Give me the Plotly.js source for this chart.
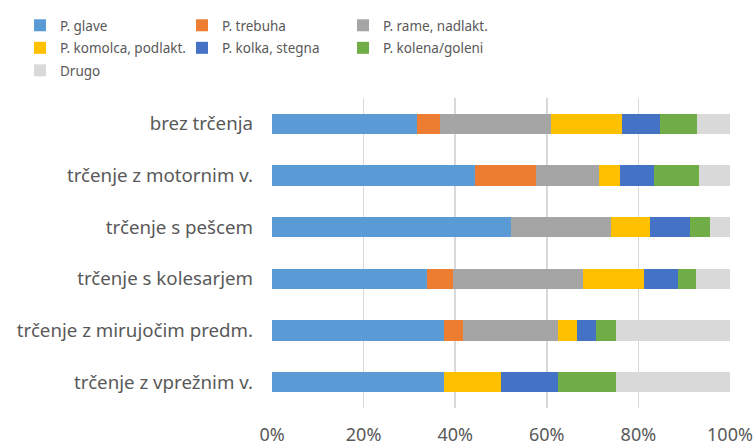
<!DOCTYPE html>
<html>
<head>
<meta charset="utf-8">
<script src="https://cdn.plot.ly/plotly-3.0.1.min.js"></script>
<style>html,body{margin:0;padding:0;background:#fff;}#chart{width:755px;height:445px;}</style>
</head>
<body>
<div id="chart"></div>
<script>
const categories = ['brez trčenja','trčenje z motornim v.','trčenje s pešcem','trčenje s kolesarjem','trčenje z mirujočim predm.','trčenje z vprežnim v.'];
const seriesNames = ['P. glave','P. trebuha','P. rame, nadlakt.','P. komolca, podlakt.','P. kolka, stegna','P. kolena/goleni','Drugo'];
const glave   = [31.7, 44.4, 52.1, 33.8, 37.5, 37.5];
const trebuha = [5.0, 13.3, 0, 5.7, 4.2, 0];
const rame    = [24.3, 13.8, 21.9, 28.3, 20.8, 0];
const komolca = [15.4, 4.4, 8.6, 13.3, 4.2, 12.5];
const kolka   = [8.4, 7.4, 8.7, 7.5, 4.2, 12.5];
const kolena  = [8.1, 10.0, 4.4, 3.9, 4.2, 12.5];
const drugo   = [7.1, 6.7, 4.3, 7.4, 25.0, 25.0];
const xTicks = [0, 20, 40, 60, 80, 100];
const xTickLabels = ['0%','20%','40%','60%','80%','100%'];

const colors = ['#5B9BD5','#ED7D31','#A5A5A5','#FFC000','#4472C4','#70AD47','#D9D9D9'];
const legendOf = ['legend','legend2','legend3','legend','legend2','legend3','legend'];
const values = [glave, trebuha, rame, komolca, kolka, kolena, drugo];

const FONT = 'Noto Sans, sans-serif';
const data = values.map((v, i) => ({
  type: 'bar', orientation: 'h', name: seriesNames[i],
  x: v, y: categories,
  marker: {color: colors[i], line: {width: 0}},
  legend: legendOf[i], legendgroup: 'g' + i,
  hoverinfo: 'skip'
}));

const L = 272, W = 458, T = 98, H = 310;
const px2x = X => (X - L) / W;
const py2y = Y => (T + H - Y) / H;
const legBase = {orientation: 'v', xanchor: 'left', yanchor: 'top', bgcolor: 'rgba(0,0,0,0)',
  font: {family: FONT, size: 13.5, color: '#595959'}, traceorder: 'grouped', tracegroupgap: 2,
  itemclick: false, itemdoubleclick: false};

const layout = {
  width: 755, height: 445,
  margin: {l: L, r: 755 - L - W, t: T, b: 445 - T - H, autoexpand: false},
  paper_bgcolor: '#fff', plot_bgcolor: '#fff',
  barmode: 'stack', barnorm: 'percent', bargap: 0.61,
  font: {family: FONT, size: 18, color: '#595959'},
  xaxis: {range: [0, 100], tickvals: xTicks, ticktext: xTickLabels, showgrid: true,
    gridcolor: '#D9D9D9', gridwidth: 1.5, zeroline: false, showline: false,
    ticks: '', ticklabelstandoff: 14, tickfont: {family: FONT, size: 18, color: '#595959'}, fixedrange: true},
  yaxis: {type: 'category', autorange: 'reversed', showgrid: false, zeroline: false, showline: false,
    ticks: '', ticklabelstandoff: 18, tickfont: {family: FONT, size: 18.7, color: '#595959'}, fixedrange: true},
  showlegend: true,
  legend:  Object.assign({}, legBase, {x: px2x(20),  y: py2y(10)}),
  legend2: Object.assign({}, legBase, {x: px2x(182), y: py2y(10)}),
  legend3: Object.assign({}, legBase, {x: px2x(343), y: py2y(10)})
};

Plotly.newPlot('chart', data, layout, {staticPlot: true, displayModeBar: false});
</script>
</body>
</html>
